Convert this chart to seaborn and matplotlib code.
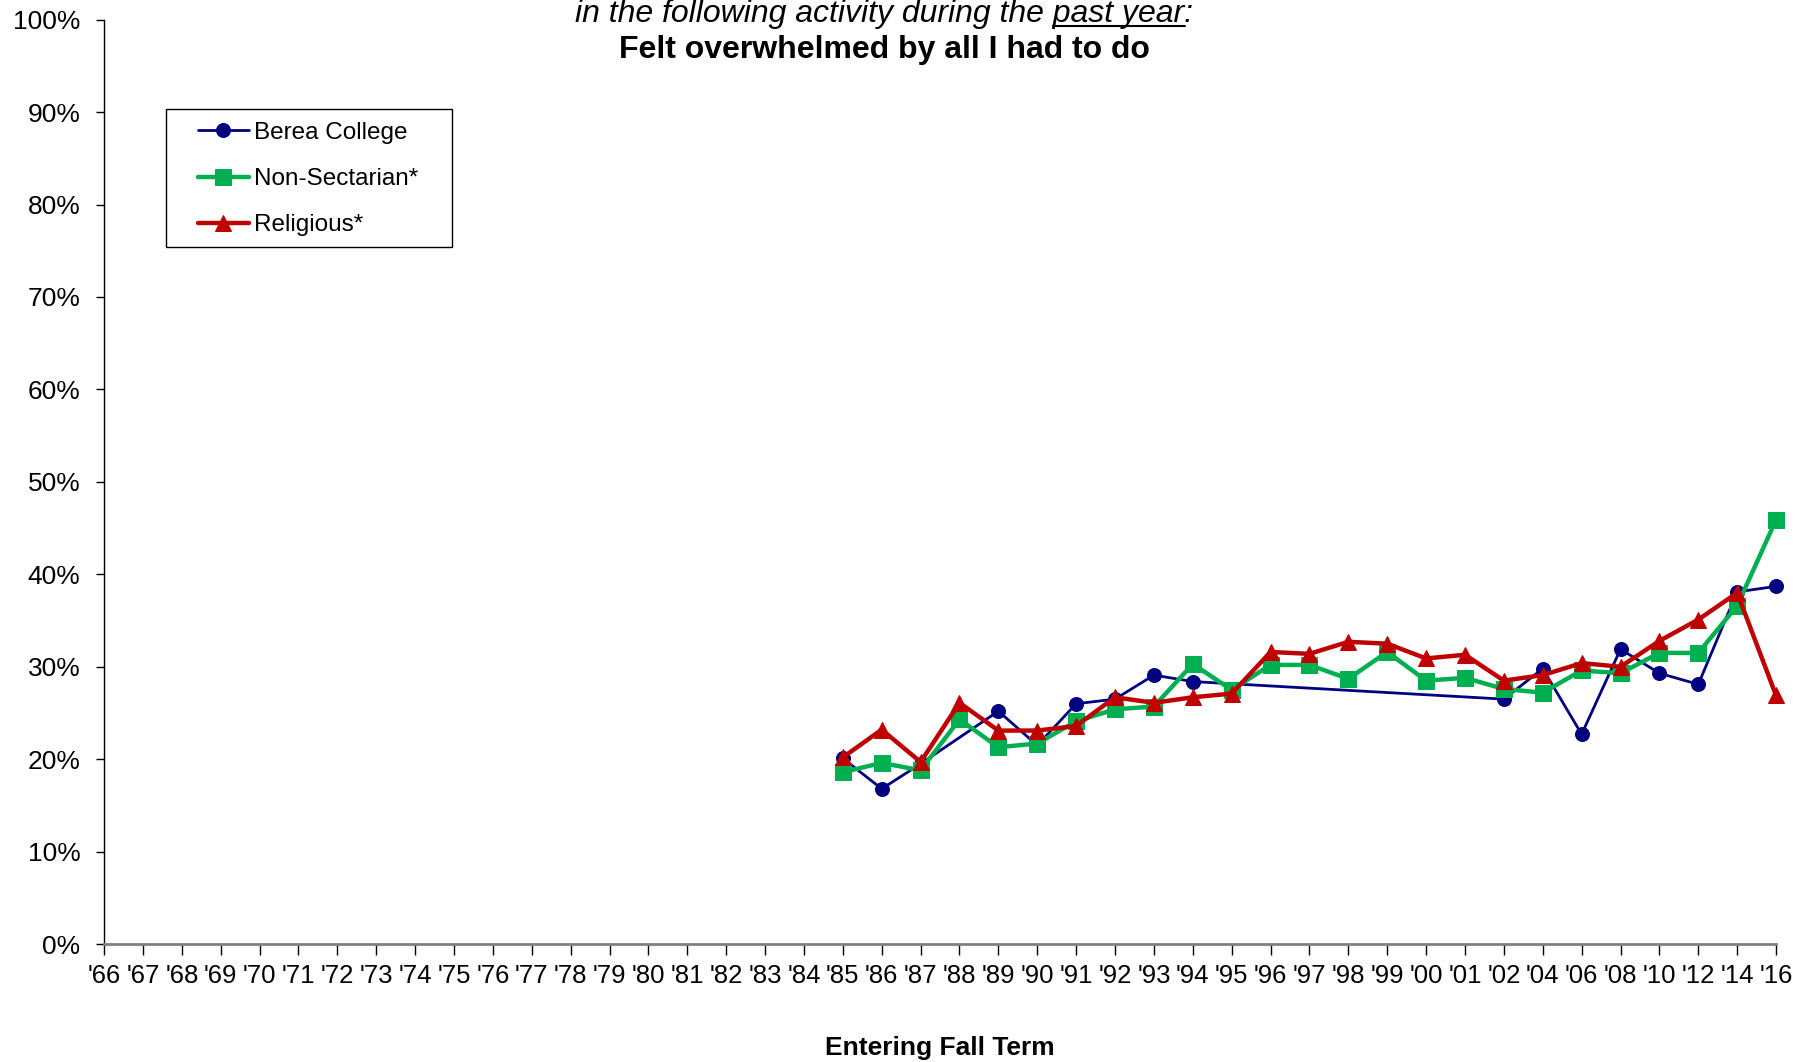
import seaborn as sns; sns.set_style("white")
import matplotlib.pyplot as plt
from matplotlib.patches import Rectangle
import pandas as pd
import numpy as np

plt.rcParams['font.family'] = ['Liberation Sans', 'DejaVu Sans']
plt.rcParams['text.color'] = 'black'
plt.rcParams['xtick.color'] = 'black'
plt.rcParams['ytick.color'] = 'black'
plt.rcParams['axes.labelcolor'] = 'black'

nan = np.nan
years = ["'66", "'67", "'68", "'69", "'70", "'71", "'72", "'73", "'74", "'75", "'76", "'77",
         "'78", "'79", "'80", "'81", "'82", "'83", "'84", "'85", "'86", "'87", "'88", "'89",
         "'90", "'91", "'92", "'93", "'94", "'95", "'96", "'97", "'98", "'99", "'00", "'01",
         "'02", "'04", "'06", "'08", "'10", "'12", "'14", "'16"]
pre = [nan] * 19  # '66 - '84 no data
berea = pre + [20.1, 16.8, 19.5, nan, 25.2, 21.5, 26.0, 26.5, 29.1, 28.4, nan, nan, nan, nan,
               nan, nan, nan, 26.5, 29.8, 22.7, 31.9, 29.3, 28.1, 38.1, 38.7]
nonsect = pre + [18.6, 19.6, 18.8, 24.3, 21.3, 21.7, 24.1, 25.4, 25.7, 30.3, 27.5, 30.2, 30.2,
                 28.7, 31.6, 28.5, 28.8, 27.6, 27.2, 29.6, 29.3, 31.5, 31.5, 36.6, 45.9]
relig = pre + [20.2, 23.2, 19.7, 26.1, 23.1, 23.1, 23.6, 26.7, 26.1, 26.7, 27.1, 31.6, 31.4,
               32.7, 32.5, 30.9, 31.3, 28.5, 29.1, 30.4, 30.0, 32.8, 35.1, 38.0, 26.9]


def run_plot():
    df = pd.DataFrame({'pos': np.arange(len(years)), 'Berea College': berea,
                       'Non-Sectarian*': nonsect, 'Religious*': relig})
    fig = plt.figure(figsize=(18.16, 10.62), dpi=100)
    ax = fig.add_axes([0.0573, 0.111, 0.9207, 0.8705])
    styles = [('Berea College', '#000080', 'o', 2.0, 10),
              ('Non-Sectarian*', '#00B050', 's', 3.2, 11),
              ('Religious*', '#C00000', '^', 3.2, 12)]
    for name, col, mk, lw, ms in styles:
        sns.lineplot(x='pos', y=name, data=df, ax=ax, color=col, marker=mk, linewidth=lw,
                     markersize=ms, markeredgecolor=col, label=name, clip_on=False)
    ax.set_xlim(0, len(years) - 1)
    ax.set_ylim(0, 100)
    ax.set_xticks(np.arange(len(years)))
    ax.set_xticklabels(years, fontsize=18.5)
    ax.set_yticks(np.arange(0, 101, 10))
    ax.set_yticklabels(['%d%%' % v for v in range(0, 101, 10)], fontsize=19)
    ax.tick_params(axis='x', direction='out', length=8, width=1, pad=6.5, bottom=True)
    ax.tick_params(axis='y', direction='out', length=6, width=1, pad=11, left=True)
    for s in ['top', 'right']:
        ax.spines[s].set_visible(False)
    ax.spines['left'].set_color('black')
    ax.spines['left'].set_linewidth(1)
    ax.spines['bottom'].set_color('#808080')
    ax.spines['bottom'].set_linewidth(2)
    ax.set_xlabel('Entering Fall Term', fontsize=19, fontweight='bold', va='center')
    ax.xaxis.set_label_coords(0.5, -0.1125)
    ax.set_ylabel('')
    ax.legend(loc='upper left', bbox_to_anchor=(0.056, 0.8895), borderaxespad=0,
              borderpad=0, fontsize=17.5, frameon=False,
              handlelength=2.1, handletextpad=0.2, labelspacing=1.0)
    ax.add_patch(Rectangle((0.037, 0.754), 0.171, 0.1495, transform=ax.transAxes,
                           fill=False, edgecolor='black', linewidth=1, clip_on=False))
    # title lines
    cx = 0.487
    t1 = fig.text(cx, 0.979, 'in the following activity during the past year:', ha='center',
                  va='baseline', fontsize=23, fontstyle='italic')
    fig.text(cx, 0.945, 'Felt overwhelmed by all I had to do', ha='center', va='baseline',
             fontsize=23, fontweight='bold')
    fig.canvas.draw()
    r = fig.canvas.get_renderer()
    bb = t1.get_window_extent(r)
    tmp = fig.text(0, 0, 'in the following activity during the ', fontsize=23, fontstyle='italic')
    w0 = tmp.get_window_extent(r).width
    tmp.set_text('past year')
    w1 = tmp.get_window_extent(r).width
    tmp.remove()
    W, H = fig.get_size_inches() * fig.dpi
    yb = 0.979 * H - 4
    fig.add_artist(plt.Line2D([(bb.x0 + w0) / W, (bb.x0 + w0 + w1) / W], [yb / H, yb / H],
                              transform=fig.transFigure, color='black', linewidth=1.5))
    plt.savefig('out.png', dpi=100)


if __name__ == '__main__':
    run_plot()
